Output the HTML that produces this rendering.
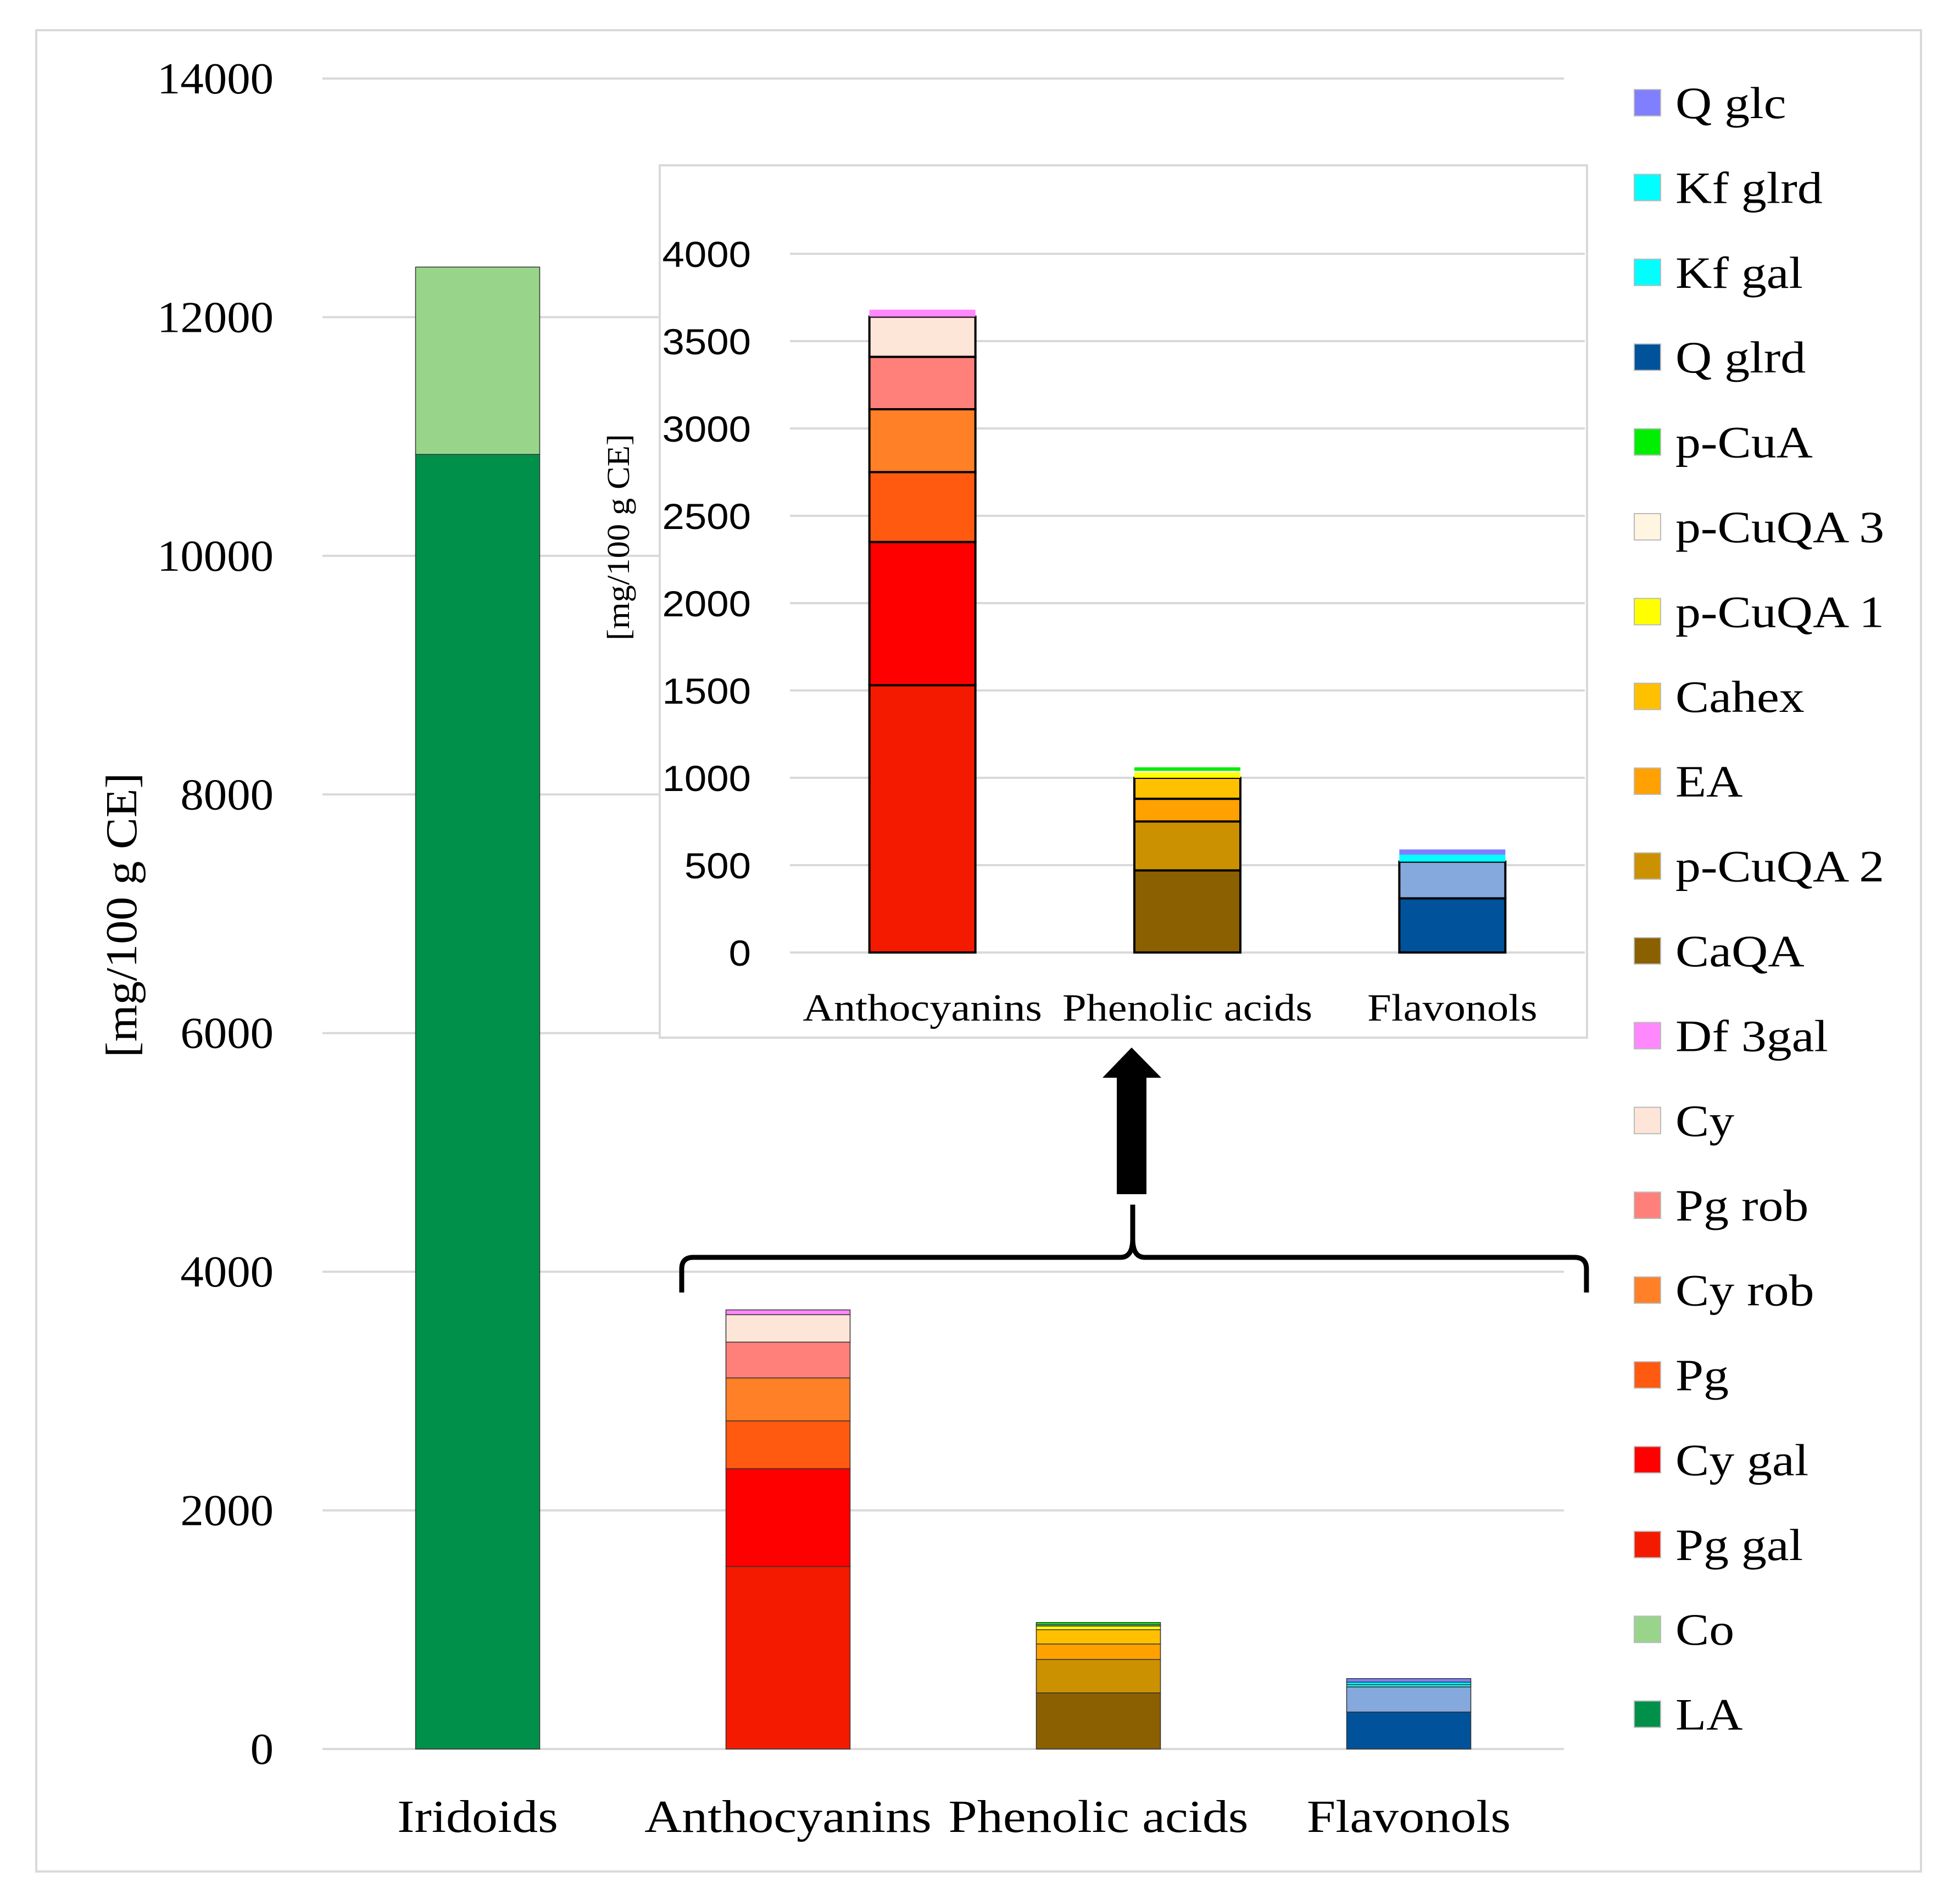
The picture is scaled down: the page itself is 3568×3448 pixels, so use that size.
<!DOCTYPE html>
<html><head><meta charset="utf-8"><style>
html,body{margin:0;padding:0;background:#fff}
svg{display:block}
</style></head><body>
<svg id="chart" xmlns="http://www.w3.org/2000/svg" width="3568" height="3448" viewBox="0 0 3568 3448">
<rect x="66" y="55" width="3431" height="3352" fill="#fff" stroke="#d9d9d9" stroke-width="4"/>
<g id="main"></g>
<g id="inset"></g>
<g id="legend"></g>
<g>
<rect x="2033" y="1960" width="54" height="214" fill="#000"/>
<polygon points="2007,1962 2060,1907 2114,1962" fill="#000"/>
</g>
<path d="M1241,2353 L1241,2310 Q1241,2289 1262,2289 L2040,2289 Q2062,2289 2062,2255 L2062,2193 L2062,2255 Q2062,2289 2084,2289 L2866,2289 Q2888,2289 2888,2310 L2888,2353" fill="none" stroke="#000" stroke-width="9"/>
</svg>
<script>
const categories = ["Iridoids","Anthocyanins","Phenolic acids","Flavonols"];
const seriesNames = ["LA","Co","Pg gal","Cy gal","Pg","Cy rob","Pg rob","Cy","Df 3gal","CaQA","p-CuQA 2","EA","Cahex","p-CuQA 1","p-CuQA 3","p-CuA","Q glrd","Q gal","Kf gal","Kf glrd","Q glc"];
const seriesColors = ["#00904A","#98D58B","#F41A00","#FF0000","#FF5A10","#FF8026","#FF807A","#FDE5D8","#FF88FF","#8A6000","#CC9100","#FFA100","#FFC000","#FFFF00","#FFF5E0","#00EE00","#00529B","#85A9DD","#00FFFF","#00FFFF","#7F7FFF"];
const iridoidValues = [10850,1570,0,0,0,0,0,0,0,0,0,0,0,0,0,0,0,0,0,0,0];
const anthocyaninValues = [0,0,1530,820,400,360,300,230,40,0,0,0,0,0,0,0,0,0,0,0,0];
const phenolicValues = [0,0,0,0,0,0,0,0,0,470,280,130,120,30,10,20,0,0,0,0,0];
const flavonolValues = [0,0,0,0,0,0,0,0,0,0,0,0,0,0,0,0,310,210,20,20,30];
const mainTicks = [0,2000,4000,6000,8000,10000,12000,14000];
const insetTicks = [0,500,1000,1500,2000,2500,3000,3500,4000];
const legendNames = ["Q glc","Kf glrd","Kf gal","Q glrd","p-CuA","p-CuQA 3","p-CuQA 1","Cahex","EA","p-CuQA 2","CaQA","Df 3gal","Cy","Pg rob","Cy rob","Pg","Cy gal","Pg gal","Co","LA"];

const NS="http://www.w3.org/2000/svg";
function mk(parent,tag,attrs,text){const e=document.createElementNS(NS,tag);for(const k in attrs)e.setAttribute(k,attrs[k]);if(text!==undefined)e.textContent=text;parent.appendChild(e);return e;}
function stretch(t,f){try{const w=t.getComputedTextLength();if(w>0){t.setAttribute('textLength',w*f);t.setAttribute('lengthAdjust','spacingAndGlyphs');}}catch(e){}}
const catValues=[iridoidValues,anthocyaninValues,phenolicValues,flavonolValues];
const serif='"Liberation Serif", serif', sans='"Liberation Sans", sans-serif';

// main chart
const gm=document.getElementById('main');
const mY=v=>3184-(v/14000)*(3184-143);
const mX0=587,mX1=2847,mBand=(mX1-mX0)/4,mBarW=226;
mainTicks.forEach(t=>{
  const l=mk(gm,'line',{x1:mX0,x2:mX1,y1:mY(t),y2:mY(t),stroke:'#d9d9d9','stroke-width':4});
  
  
  const tx=mk(gm,'text',{x:498,y:mY(t)+27,'text-anchor':'end','font-family':serif,'font-size':80,fill:'#000'},String(t));
  
  
  stretch(tx,1.06);
});
categories.forEach((c,i)=>{
  const cx=mX0+mBand*(i+0.5);
  let acc=0;
  catValues[i].forEach((v,s)=>{
    if(!v)return;
    const r=mk(gm,'rect',{x:cx-mBarW/2,y:mY(acc+v),width:mBarW,height:mY(acc)-mY(acc+v),fill:seriesColors[s],stroke:'#333','stroke-width':1.5});
    
    
    acc+=v;
  });
  const t=mk(gm,'text',{x:cx,y:3335,'text-anchor':'middle','font-family':serif,'font-size':84,fill:'#000'},c);
  
  
  stretch(t,1.12);
});
const myt=mk(gm,'text',{x:0,y:0,transform:'translate(248,1666) rotate(-90)','text-anchor':'middle','font-family':serif,'font-size':80,fill:'#000'},'[mg/100 g CE]');


stretch(myt,1.08);

// inset
const gi=document.getElementById('inset');
const box=mk(gi,'rect',{x:1201,y:301,width:1688,height:1588,fill:'#fff',stroke:'#d9d9d9',"stroke-width":4});


const iY=v=>1734-(v/4000)*(1734-462);
const iX0=1438,iX1=2885,iBand=(iX1-iX0)/3,iBarW=193;
insetTicks.forEach(t=>{
  const l=mk(gi,'line',{x1:iX0,x2:iX1,y1:iY(t),y2:iY(t),stroke:'#d9d9d9','stroke-width':4});
  
  
  const tx=mk(gi,'text',{x:1367,y:iY(t)+24,'text-anchor':'end','font-family':sans,'font-size':66,fill:'#000'},String(t));
  
  
  stretch(tx,1.1);
});
categories.slice(1).forEach((c,j)=>{
  const i=j+1;
  const cx=iX0+iBand*(j+0.5);
  let acc=0;
  catValues[i].forEach((v,s)=>{
    if(!v)return;
    const r=mk(gi,'rect',{x:cx-iBarW/2,y:iY(acc+v),width:iBarW,height:iY(acc)-iY(acc+v),fill:seriesColors[s],stroke:v>=60?'#000':'none','stroke-width':4});
    
    
    acc+=v;
  });
  const t=mk(gi,'text',{x:cx,y:1858,'text-anchor':'middle','font-family':serif,'font-size':70,fill:'#000'},c);
  
  
  stretch(t,1.12);
});
const iyt=mk(gi,'text',{x:0,y:0,transform:'translate(1145,978) rotate(-90)','text-anchor':'middle','font-family':serif,'font-size':58,fill:'#000'},'[mg/100 g CE]');


stretch(iyt,1.08);

// legend
const gl=document.getElementById('legend');
legendNames.forEach((n,k)=>{
  const cy=187+k*154.4;
  const col=seriesColors[seriesNames.indexOf(n)];
  const g=mk(gl,'g',{});
  
  
  mk(g,'rect',{x:2975,y:cy-24,width:48,height:48,fill:col,stroke:'#bbb','stroke-width':2});
  const t=mk(g,'text',{x:3050,y:cy+28,'font-family':serif,'font-size':82,fill:'#000'},n);
  stretch(t,1.12);
});
</script>
</body></html>
